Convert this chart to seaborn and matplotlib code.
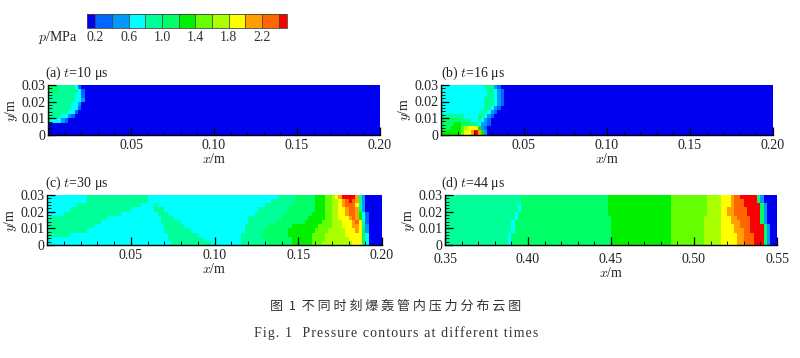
import numpy as np
import matplotlib
matplotlib.use("Agg")
import matplotlib.pyplot as plt
from matplotlib.colors import ListedColormap, BoundaryNorm
from matplotlib.ticker import FixedLocator
import seaborn as sns

W, H = 800, 358

# Pressure bands (MPa), one colour per band
BOUNDS = [0.1, 0.2, 0.4, 0.6, 0.8, 1.0, 1.2, 1.4, 1.6, 1.8, 2.0, 2.2, 2.4, 2.5]
COLORS = ["#0000f0", "#0066ff", "#0099ff", "#00ffff", "#00ff99", "#00ff66", "#00f000",
          "#66ff00", "#aaff00", "#ffff00", "#ffa000", "#ff6600", "#f80000"]
CBAR_TICKS = [0.2, 0.6, 1.0, 1.4, 1.8, 2.2]
CBAR_LABELS = ["0.2", "0.6", "1.0", "1.4", "1.8", "2.2"]

# Contour cells, top row first.
# "band:end" = cells up to index end belong to that band (a=10, b=11, c=12).
N_COLS, N_ROWS = 100, 12

ROWS_A = [
    "5:3 4:8 3:9 1:10", "5:3 4:9 3:10 1:11", "4:8 3:10 1:11", "4:8 3:10 2:11",
    "4:7 3:9 2:10", "4:7 3:9 1:10", "4:6 3:8 1:9", "4:4 3:6 2:7 1:8", "4:1 3:4 2:5 1:6",
    "0:1", "0:1", "0:1",
]
ROWS_B = [
    "3:13 4:16 2:17 1:18", "3:14 4:16 3:17 2:18 1:19", "3:14 4:16 3:17 2:18 1:19",
    "3:13 4:16 3:17 2:18 1:19", "3:13 4:16 3:17 2:18 1:19", "3:13 4:15 3:16 2:17 1:18",
    "3:12 4:14 3:15 2:16 1:17", "4:7 3:11 4:13 3:14 2:15 1:16",
    "5:6 4:9 3:11 4:12 3:13 2:14 1:15", "5:4 6:6 5:9 4:11 3:12 2:14 1:15",
    "5:3 6:6 7:7 8:8 9:11 6:12 2:13 1:14", "6:6 7:7 9:9 a:10 c:11 a:12 6:13 2:14",
]
ROWS_C = [
    "3:12 4:30 3:69 4:74 5:80 6:83 7:85 8:86 9:87 a:88 c:92 a:93 4:94 2:95 0:100",
    "3:12 4:30 3:67 4:74 5:80 6:83 7:85 8:87 9:88 a:89 b:90 c:91 b:92 a:93 4:94 2:95 0:100",
    "3:9 4:28 3:32 4:33 3:65 4:73 5:80 6:83 7:85 8:87 9:88 a:89 b:92 9:93 4:94 2:95 0:100",
    "3:7 4:25 3:32 4:35 3:63 4:72 5:80 6:83 7:85 8:87 9:89 a:90 b:92 a:93 4:94 2:95 0:100",
    "3:5 4:22 3:33 4:36 3:62 4:71 5:79 6:83 7:85 8:87 9:89 a:90 b:92 a:93 6:94 3:95 1:96 0:100",
    "3:1 4:18 3:34 4:38 3:60 4:70 5:78 6:83 7:85 8:87 9:90 a:91 b:92 a:93 6:94 3:95 1:96 0:100",
    "4:16 3:34 4:40 3:60 4:68 5:77 6:82 7:85 8:88 9:91 a:92 b:93 9:94 4:95 1:96 0:100",
    "4:14 3:35 4:41 3:59 4:66 5:73 6:81 7:85 8:88 9:91 a:93 9:94 4:95 2:96 0:100",
    "4:12 3:35 4:43 3:59 4:65 5:72 6:80 7:84 8:89 9:92 a:93 9:94 5:95 2:96 0:100",
    "4:7 3:36 4:45 3:58 4:64 5:72 6:79 7:83 8:89 9:94 5:95 3:96 0:100",
    "4:1 3:36 4:47 3:58 4:65 5:73 6:79 7:83 8:90 9:94 5:95 3:96 0:100",
    "3:37 4:49 3:58 4:66 5:73 6:79 7:82 8:91 9:94 5:95 3:96 0:100",
]
ROWS_D = [
    "4:23 5:49 6:68 7:79 8:83 9:86 a:87 b:89 c:94 4:95 2:96 0:100",
    "4:23 5:49 6:68 7:79 8:83 9:86 a:87 b:90 c:94 5:95 2:96 0:100",
    "4:22 3:23 5:49 6:68 7:79 8:83 9:86 a:87 b:90 c:95 5:96 2:97 0:100",
    "4:22 3:23 5:49 6:68 7:79 8:83 9:85 a:87 b:91 c:95 5:96 2:97 0:100",
    "4:21 3:22 5:49 6:68 7:79 8:83 9:85 a:87 b:91 c:95 5:96 2:97 0:100",
    "4:21 3:22 5:50 6:68 7:78 8:83 9:86 a:88 b:92 c:95 5:96 2:97 0:100",
    "4:20 3:21 5:50 6:68 7:78 8:83 9:86 a:89 b:92 c:95 5:96 2:97 0:100",
    "4:20 3:21 5:50 6:68 7:78 8:83 9:87 a:89 b:92 c:96 5:97 2:98 0:100",
    "4:20 3:21 5:50 6:68 7:78 8:83 9:87 a:90 b:92 c:96 5:97 2:98 0:100",
    "4:19 3:20 5:50 6:68 7:78 8:83 9:88 a:90 b:93 c:96 5:97 2:98 0:100",
    "4:19 3:20 5:50 6:68 7:78 8:83 9:88 a:90 b:93 c:96 5:97 2:98 0:100",
    "4:19 3:20 5:50 6:68 7:78 8:83 9:88 a:90 b:93 c:96 5:97 2:98 0:100",
]

TITLES = ["(a) $t$=10 μs", "(b) $t$=16 μs", "(c) $t$=30 μs", "(d) $t$=44 μs"]
X_TICKS = [0.05, 0.10, 0.15, 0.20]
X_TICKS_D = [0.35, 0.40, 0.45, 0.50, 0.55]
Y_TICKS = [0, 0.01, 0.02, 0.03]
Y_LABELS = ["0", "0.01", "0.02", "0.03"]


def parse_rows(rows):
    # expand "band:end" runs into a grid of pressures, rest of the row stays in band 0
    mids = [(BOUNDS[i] + BOUNDS[i + 1]) / 2 for i in range(len(COLORS))]
    grid = np.full((N_ROWS, N_COLS), mids[0])
    for r, row in enumerate(rows):
        start = 0
        for run in row.split():
            band, end = run.split(":")
            grid[r, start:int(end)] = mids[int(band, 16)]
            start = int(end)
    return grid


def px_axes(fig, x0, y0, x1, y1):
    return fig.add_axes([x0 / W, 1 - y1 / H, (x1 - x0) / W, (y1 - y0) / H])


sns.set_theme(style="white")
plt.rcParams["font.family"] = ["Liberation Serif", "DejaVu Serif"]
plt.rcParams["mathtext.fontset"] = "cm"

cmap = ListedColormap(COLORS)
norm = BoundaryNorm(BOUNDS, cmap.N)

fig = plt.figure(figsize=(W / 100, H / 100), dpi=100)


def draw_panel(rect, rows, title, title_x, x0, ticks, x_pad=3):
    ax = px_axes(fig, *rect)
    sns.heatmap(parse_rows(rows), cmap=cmap, norm=norm, cbar=False, ax=ax,
                xticklabels=False, yticklabels=False)
    ax.set_axisbelow(False)
    cell_x = 0.2 / N_COLS
    cell_y = 0.03 / N_ROWS
    to_x = lambda v: (v - x0) / cell_x
    to_y = lambda v: (0.03 - v) / cell_y

    ax.set_xticks([to_x(v) for v in ticks])
    ax.set_xticklabels([f"{v:.2f}" for v in ticks], fontsize=10)
    ax.set_yticks([to_y(v) for v in Y_TICKS])
    ax.set_yticklabels(Y_LABELS, fontsize=10, rotation=0)
    # minor ticks every 0.01 m along x, 0.002 m along y
    ax.xaxis.set_minor_locator(FixedLocator([to_x(x0 + 0.01 * i) for i in range(21)]))
    ax.yaxis.set_minor_locator(FixedLocator([to_y(0.002 * i) for i in range(16)]))
    ax.tick_params(which="major", direction="in", length=6, width=0.9, color="black",
                   bottom=True, left=True, labelcolor="#222222")
    ax.tick_params(axis="x", which="major", pad=x_pad)
    ax.tick_params(axis="y", which="major", pad=2)
    ax.tick_params(which="minor", direction="in", length=3, width=0.6, color="black",
                   bottom=True, left=True)
    for side in ["left", "bottom"]:
        ax.spines[side].set_visible(True)
        ax.spines[side].set_color("black")
        ax.spines[side].set_linewidth(1.0)

    ax.set_xlabel("$x$/m", fontsize=10, labelpad=0, color="#222222")
    ax.set_ylabel("$y$/m", fontsize=10, labelpad=0.5, color="#222222")
    fig.text(title_x / W, 1 - (rect[1] - 12) / H, title, fontsize=10, va="center", color="#222222")
    return ax


draw_panel((48, 85, 380, 135), ROWS_A, TITLES[0], 45, 0.0, X_TICKS)
draw_panel((441, 85, 773, 134.5), ROWS_B, TITLES[1], 441, 0.0, X_TICKS)
draw_panel((47, 195, 382, 245), ROWS_C, TITLES[2], 45, 0.0, X_TICKS)
draw_panel((445, 195, 777, 245), ROWS_D, TITLES[3], 441, 0.35, X_TICKS_D, x_pad=6)

# colour scale, driven by the same cmap and norm as the panels
cax = px_axes(fig, 87, 14, 287, 28)
cb = fig.colorbar(plt.cm.ScalarMappable(norm=norm, cmap=cmap), cax=cax, orientation="horizontal",
                  spacing="proportional", drawedges=True, ticks=CBAR_TICKS)
cb.ax.set_xticklabels(CBAR_LABELS, fontsize=10, color="#333333")
cb.ax.tick_params(length=0, pad=2)
cb.ax.minorticks_off()
cb.dividers.set_color("#444444")
cb.dividers.set_linewidth(0.6)
cb.outline.set_edgecolor("#444444")
cb.outline.set_linewidth(0.6)
fig.text(38 / W, 1 - 37 / H, "$p$/MPa", fontsize=10, va="center", color="#222222")

# caption, letter-spaced like the journal's typesetting
fig.text(396 / W, 1 - 306 / H, "图  1  " + " ".join("不同时刻爆轰管内压力分布云图"), fontsize=9.4,
         ha="center", va="center", color="#333333",
         family=["Noto Sans CJK SC", "DejaVu Sans"])
fig.text(396 / W, 1 - 333 / H, "\u200a".join("Fig. 1  Pressure contours at different times"), fontsize=10,
         ha="center", va="center", color="#333333")

fig.savefig("out.png", dpi=100)
